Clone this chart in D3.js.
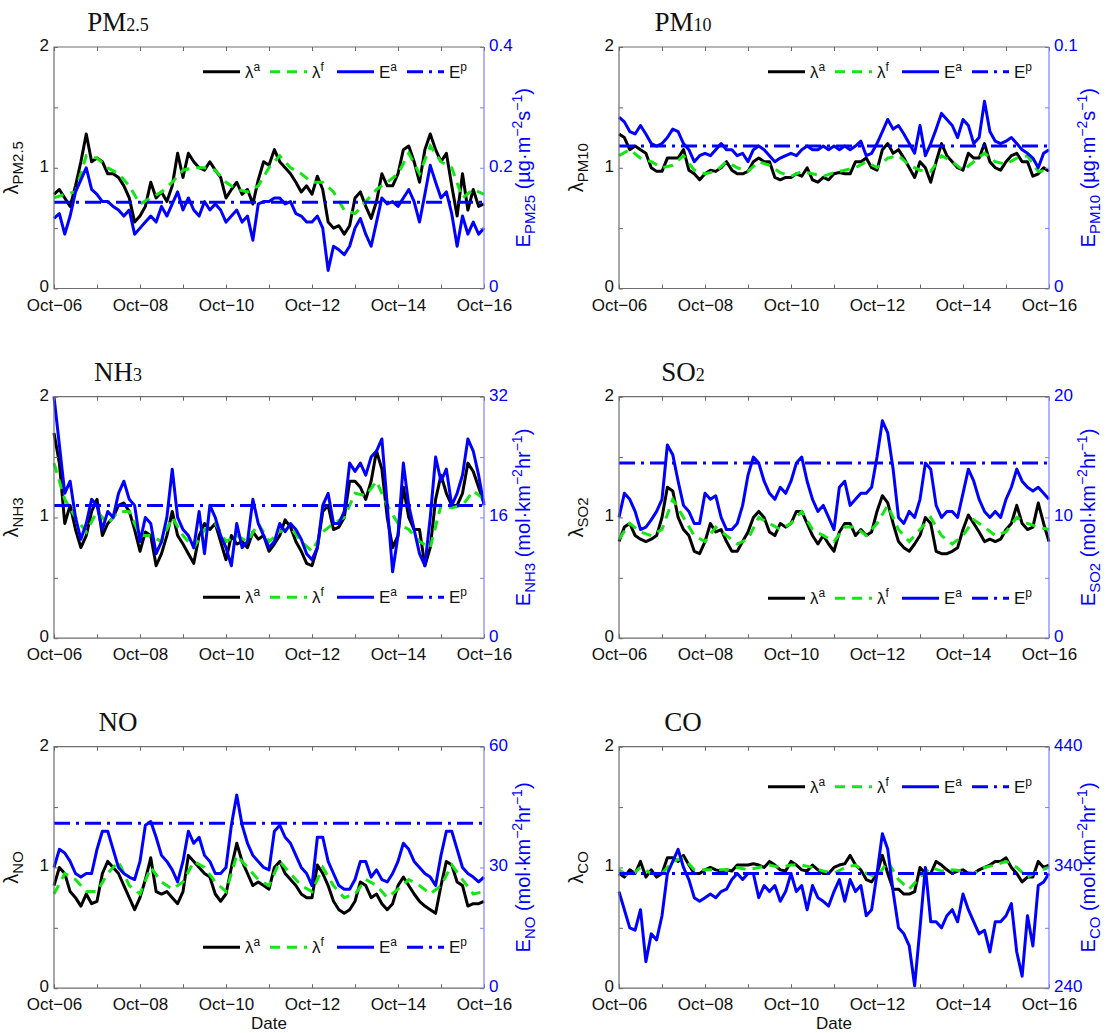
<!DOCTYPE html>
<html>
<head>
<meta charset="utf-8">
<script src="https://cdn.jsdelivr.net/npm/d3@7"></script>
<style>
  body { margin: 0; background: #fff; }
  svg text { font-family: "Liberation Sans", Arial, Helvetica, sans-serif; }
</style>
</head>
<body>
<div id="chart"></div>
<script>
// ---- data (3-hourly analysis / 6-hourly forecast, Oct 06 - Oct 16) ----
const dayTickLabels = ["Oct\u221206", "", "Oct\u221208", "", "Oct\u221210", "", "Oct\u221212", "", "Oct\u221214", "", "Oct\u221216"];
const lamTicks = [0, 0.5, 1, 1.5, 2];
const lamTickLabels = ["0", "", "1", "", "2"];

// PM2.5
const pm25LamA = [0.78,0.82,0.75,0.68,0.85,1.05,1.28,1.05, 1.08,1.05,0.95,0.95,0.92,0.85,0.75,0.55,
  0.6,0.68,0.88,0.75,0.8,0.72,0.85,1.12, 0.92,1.12,1.05,1.0,0.98,1.05,0.98,0.92,
  0.75,0.82,0.88,0.78,0.82,0.7,0.9,1.05, 1.02,1.15,1.05,1.0,0.95,0.88,0.8,0.85,
  0.78,0.93,0.82,0.55,0.5,0.52,0.45,0.52, 0.75,0.8,0.68,0.58,0.72,0.95,0.85,0.85,
  0.95,1.15,1.18,1.05,0.88,1.15,1.28,1.15, 1.05,1.12,0.85,0.6,0.95,0.65,0.82,0.68, 0.7];
const pm25LamF = [0.75,0.78,0.8,1.1,1.08,1.0,0.95,0.85, 0.7,0.75,0.8,0.88,0.98,1.0,1.0,0.98,
  0.88,0.82,0.8,0.85,1.0,1.1,1.0,0.95, 0.88,0.88,0.8,0.65,0.62,0.72,0.82,0.88,
  0.95,1.12,0.95,1.18,1.05,1.0,0.75,0.82, 0.78];
const pm25Ea = [0.116,0.124,0.09,0.12,0.16,0.18,0.2,0.164, 0.156,0.144,0.144,0.136,0.13,0.12,0.13,0.09,
  0.1,0.11,0.12,0.11,0.136,0.12,0.14,0.16, 0.13,0.15,0.13,0.12,0.144,0.13,0.14,0.13,
  0.11,0.12,0.13,0.11,0.12,0.08,0.14,0.144, 0.144,0.15,0.15,0.14,0.144,0.124,0.12,0.11,
  0.11,0.12,0.1,0.03,0.07,0.064,0.056,0.07, 0.1,0.116,0.09,0.07,0.11,0.15,0.14,0.144,
  0.136,0.15,0.164,0.144,0.11,0.156,0.204,0.176, 0.15,0.16,0.124,0.07,0.12,0.09,0.11,0.09, 0.1];
const pm25Ep = 0.143;
const pm25RightTicks = [0, 0.1, 0.2, 0.3, 0.4];
const pm25RightLabels = ["0", "", "0.2", "", "0.4"];

// PM10
const pm10LamA = [1.28,1.25,1.15,1.18,1.15,1.12,1.0,0.97, 0.97,1.08,1.08,1.08,1.15,0.98,0.95,0.9,
  0.95,0.98,0.97,1.0,1.05,0.98,0.95,0.95, 0.97,1.05,1.08,1.05,1.05,0.92,0.9,0.92,
  0.92,0.95,0.93,1.0,0.9,0.88,0.92,0.9, 0.95,0.96,0.95,0.95,1.05,1.05,1.08,1.0,
  0.98,1.15,1.2,1.12,1.15,1.08,1.0,0.92, 1.05,1.0,0.88,1.05,1.2,1.1,1.05,1.0,
  0.98,1.12,1.08,1.08,1.2,1.05,1.0,0.98, 1.05,1.1,1.12,1.05,1.05,0.93,0.95,1.0, 0.97];
const pm10LamF = [1.1,1.15,1.08,1.05,1.0,1.02,1.1,0.98, 0.95,0.97,1.05,1.0,0.97,1.05,1.02,0.96,
  0.93,0.97,0.95,0.93,0.96,0.98,1.0,1.05, 1.0,1.08,1.1,1.02,0.98,0.97,1.1,1.05,
  0.98,1.05,1.12,1.05,1.03,1.08,1.1,0.97, 0.98];
const pm10Ea = [0.071,0.069,0.065,0.064,0.0675,0.064,0.06,0.059, 0.06,0.0625,0.066,0.065,0.06,0.0575,0.0525,0.055,
  0.056,0.055,0.0575,0.06,0.0575,0.0575,0.055,0.056, 0.0525,0.0575,0.059,0.0575,0.055,0.0525,0.054,0.055,
  0.056,0.055,0.0575,0.059,0.0575,0.0575,0.059,0.0575, 0.059,0.0575,0.059,0.0575,0.059,0.061,0.055,0.056,
  0.06,0.065,0.07,0.066,0.0675,0.064,0.06,0.056, 0.0675,0.055,0.06,0.066,0.0725,0.07,0.0675,0.0625,
  0.07,0.0675,0.06,0.0625,0.0775,0.065,0.061,0.06, 0.061,0.0625,0.06,0.0575,0.056,0.054,0.05,0.056, 0.0575];
const pm10Ep = 0.059;
const pm10RightTicks = [0, 0.025, 0.05, 0.075, 0.1];
const pm10RightLabels = ["0", "", "", "", "0.1"];

// NH3
const nh3LamA = [1.7,1.45,0.95,1.1,0.9,0.75,0.85,1.05, 1.15,0.85,0.95,1.0,1.1,1.12,1.05,0.9,
  0.72,0.88,0.85,0.6,0.7,0.85,1.05,0.85, 0.78,0.7,0.62,0.85,0.95,0.9,0.95,0.8,
  0.65,0.85,0.78,0.8,0.75,0.88,0.82,0.85, 0.72,0.78,0.85,0.98,0.92,0.8,0.72,0.62,
  0.6,0.75,1.05,1.1,0.9,0.92,1.0,1.3, 1.3,1.25,1.15,1.3,1.55,1.4,1.0,0.75,
  0.85,1.25,1.0,0.9,0.9,0.6,0.75,1.15, 1.35,1.2,1.1,1.1,1.2,1.45,1.38,1.25, 1.12];
const nh3LamF = [1.45,1.15,1.0,0.88,1.05,0.95,1.05,1.05, 0.85,0.85,0.8,1.0,0.85,0.75,0.9,0.95,
  0.8,0.85,0.8,0.95,0.8,0.88,0.92,0.8, 0.72,0.88,0.95,1.0,1.2,1.18,1.3,1.1,
  0.95,0.9,0.8,0.75,1.1,1.08,1.1,1.22, 1.15];
const nh3Ea = [32,25.6,19.2,20.8,16,13.1,15.2,18.4, 17.6,14.4,16.8,16,19.2,20.8,18.4,17.6,
  12.8,16,15.2,11.2,12.8,16,22.4,16, 14.4,13.6,12,16.8,11.2,17.6,16,13.6,
  12,9.6,15.2,12,12.8,18.4,15.2,13.6, 12,12.8,15.2,14.1,15.2,14.4,13.1,11.2,
  10.4,12,17.6,19.2,15.2,15.2,16.8,23.2, 22.1,23.2,21.6,24,24.8,26.4,17.6,8.8,
  13.6,23.2,17.6,14.4,11.2,9.6,16,24, 20.8,22.4,17.6,19.2,21.6,26.4,24.8,21.6, 17.6];
const nh3Ep = 17.6;
const nh3RightTicks = [0, 8, 16, 24, 32];
const nh3RightLabels = ["0", "", "16", "", "32"];

// SO2
const so2LamA = [0.8,0.92,0.95,0.85,0.82,0.8,0.82,0.85, 1.0,1.25,1.22,1.0,0.9,0.85,0.72,0.7,
  0.8,0.95,0.88,0.9,0.8,0.72,0.72,0.8, 0.88,1.0,1.05,1.0,0.88,0.85,0.95,0.92,
  0.95,1.05,1.05,0.95,0.85,0.78,0.85,0.78, 0.72,0.88,0.95,0.95,0.85,0.9,0.85,0.88,
  1.05,1.18,1.12,0.95,0.8,0.75,0.72,0.78, 0.85,1.0,0.95,0.72,0.7,0.7,0.72,0.75,
  0.9,1.02,0.95,0.88,0.8,0.82,0.8,0.82, 0.9,0.95,1.1,0.95,0.9,0.92,1.12,0.95, 0.8];
const so2LamF = [0.82,0.95,0.88,0.85,0.9,1.15,1.0,0.85, 0.8,0.92,0.85,0.78,0.82,1.0,0.95,0.9,
  0.95,1.05,0.9,0.85,0.8,0.92,0.92,0.85, 0.95,1.1,0.9,0.8,0.9,1.0,0.85,0.78,
  0.85,0.98,0.92,0.85,0.88,1.0,0.95,0.92, 0.9];
const so2Ea = [10,12,11.5,10.5,9,9.2,9.8,10.5, 11.5,16,15.2,13,11,10.5,9.5,9.5,
  12,11.5,11.8,10,9,9,9.5,11, 13.5,15,14.5,13,12,11.5,12.5,12,
  13,14.5,15,13,11.5,10.5,11,10, 9,12.5,13,11,11.5,12,12,12.5,
  15,18,17,14,10,9.5,10.5,10, 11.5,14.5,14,11,10,10.5,10.5,10,
  12,14,13,11.5,10.5,10,10.5,10, 11.5,12.5,14,13,12.5,12.2,12.5,12, 11.5];
const so2Ep = 14.5;
const so2RightTicks = [0, 5, 10, 15, 20];
const so2RightLabels = ["0", "", "10", "", "20"];

// NO
const noLamA = [0.85,1.0,0.95,0.8,0.75,0.68,0.78,0.7, 0.72,0.95,1.05,1.0,0.95,0.85,0.75,0.65,
  0.75,0.9,1.08,0.8,0.78,0.8,0.75,0.7, 0.8,1.1,1.05,1.0,0.95,0.92,0.78,0.72,
  0.78,1.0,1.2,1.05,0.95,0.85,0.88,0.85, 0.82,1.0,1.05,0.95,0.9,0.85,0.78,0.75,
  0.75,1.02,0.95,0.85,0.72,0.65,0.62,0.65, 0.72,0.88,0.85,0.75,0.78,0.7,0.65,0.7,
  0.85,0.92,0.85,0.78,0.72,0.68,0.65,0.62, 0.85,1.05,1.02,0.88,0.85,0.68,0.7,0.7, 0.72];
const noLamF = [0.78,0.95,0.9,0.8,0.8,0.95,1.05,0.85, 0.78,1.0,0.88,0.82,0.88,1.05,1.0,0.88,
  0.8,1.1,1.0,0.9,0.85,1.05,0.95,0.85, 0.8,1.0,0.85,0.75,0.78,0.9,0.85,0.75,
  0.82,0.9,0.85,0.78,0.85,1.02,0.9,0.78, 0.8];
const noEa = [30,34.5,33.6,31.5,28.5,27.6,28.5,28.5, 34.5,39,39,34.5,30,28.5,27.6,27,
  31.5,40.5,41.4,37.5,33,31.5,29.4,26.4, 31.5,39,36,37.5,33,31.5,28.5,28.5,
  30,40.5,48,40.5,36,33,31.5,30, 29.4,39,40.5,37.5,36,33,30,28.5,
  25.5,37.5,37.5,31.5,28.5,25.5,24.6,24.6, 27,31.5,31.5,27.6,29.4,27,26.4,28.5,
  31.5,36,34.5,31.5,30,28.5,27.6,25.5, 33,39,39,34.5,30,28.5,27.6,26.4, 27.6];
const noEp = 41;
const noRightTicks = [0, 15, 30, 45, 60];
const noRightLabels = ["0", "", "30", "", "60"];

// CO
const coLamA = [0.95,0.92,0.98,0.95,1.05,0.92,0.98,0.92, 0.95,1.08,1.08,1.05,1.1,1.02,0.95,0.95,
  0.98,1.0,0.98,0.97,0.98,0.97,1.02,1.02, 1.02,1.03,1.02,1.0,1.05,1.02,0.98,0.97,
  1.05,1.02,0.98,0.97,1.02,0.98,0.95,0.95, 1.0,1.02,1.03,1.1,1.02,0.98,0.9,0.88,
  0.95,1.1,0.95,0.82,0.82,0.78,0.78,0.8, 1.0,0.95,0.95,1.05,1.02,0.98,0.95,0.97,
  0.98,0.95,0.95,0.98,1.0,1.02,1.05,1.05, 1.08,1.0,0.95,0.88,0.92,0.92,1.05,1.0, 1.02];
const coLamF = [0.98,0.92,1.0,0.95,0.95,1.05,1.08,0.98, 0.98,0.98,0.98,1.0,0.98,1.0,1.02,1.0,
  1.02,1.02,1.0,0.97,0.95,1.0,1.02,0.95, 0.92,1.05,0.9,0.82,0.92,1.0,0.97,0.98,
  0.97,0.95,1.0,1.02,1.05,1.0,0.92,0.97, 1.0];
const coEa = [320,305,290,288,305,262,285,280, 300,335,345,355,340,330,315,312,
  315,318,315,320,322,330,335,330, 335,335,315,325,320,325,312,320,
  335,320,325,305,325,315,312,308, 320,330,312,330,320,325,300,305,
  335,368,355,320,290,285,275,242, 290,340,295,295,290,300,305,295,
  318,305,295,285,288,270,295,295, 300,310,270,250,300,275,325,328, 335];
const coEp = 335;
const coRightTicks = [240, 290, 340, 390, 440];
const coRightLabels = ["240", "", "340", "", "440"];

// ---- layout ----
const W = 1113, H = 1033;
const colX = [54, 619], rowY = [47, 396.7, 746.7];
const PW = 430, PH = 241.5;
const BLUE = "#0000ff", GREEN = "#14e614";

const svg = d3.select("#chart").append("svg")
  .attr("width", W).attr("height", H)
  .style("background", "#fff");

const startDate = new Date(Date.UTC(2014, 9, 6));
const endDate = new Date(Date.UTC(2014, 9, 16));
const timesFor = n => d3.range(n).map(i => new Date(+startDate + i * (endDate - startDate) / (n - 1)));
const dayTicks = d3.utcDay.range(startDate, d3.utcDay.offset(endDate, 1));

const panels = [
  { title: "PM", titleSub: "2.5", col: 0, row: 0, lamA: pm25LamA, lamF: pm25LamF, ea: pm25Ea, ep: pm25Ep,
    rTicks: pm25RightTicks, rLabels: pm25RightLabels, lamSub: "PM2.5", eSub: "PM25", unit: "pm", legend: ["top", 24.7] },
  { title: "PM", titleSub: "10", col: 1, row: 0, lamA: pm10LamA, lamF: pm10LamF, ea: pm10Ea, ep: pm10Ep,
    rTicks: pm10RightTicks, rLabels: pm10RightLabels, lamSub: "PM10", eSub: "PM10", unit: "pm", legend: ["top", 24.7] },
  { title: "NH", titleSub: "3", col: 0, row: 1, lamA: nh3LamA, lamF: nh3LamF, ea: nh3Ea, ep: nh3Ep,
    rTicks: nh3RightTicks, rLabels: nh3RightLabels, lamSub: "NH3", eSub: "NH3", unit: "gas", legend: ["bottom", 41] },
  { title: "SO", titleSub: "2", col: 1, row: 1, lamA: so2LamA, lamF: so2LamF, ea: so2Ea, ep: so2Ep,
    rTicks: so2RightTicks, rLabels: so2RightLabels, lamSub: "SO2", eSub: "SO2", unit: "gas", legend: ["bottom", 40] },
  { title: "NO", titleSub: "", col: 0, row: 2, lamA: noLamA, lamF: noLamF, ea: noEa, ep: noEp,
    rTicks: noRightTicks, rLabels: noRightLabels, lamSub: "NO", eSub: "NO", unit: "gas", legend: ["bottom", 41] },
  { title: "CO", titleSub: "", col: 1, row: 2, lamA: coLamA, lamF: coLamF, ea: coEa, ep: coEp,
    rTicks: coRightTicks, rLabels: coRightLabels, lamSub: "CO", eSub: "CO", unit: "gas", legend: ["top", 40] }
];

function styleAxis(a, color, lineColor) {
  a.select(".domain").remove();
  a.attr("font-size", 17).attr("font-family", null);
  a.selectAll(".tick line").attr("stroke", lineColor);
  a.selectAll(".tick text").attr("fill", color);
}

function drawPanel(p) {
  const left = colX[p.col], top = rowY[p.row];
  const g = svg.append("g").attr("transform", `translate(${left},${top})`);

  const x = d3.scaleUtc().domain([startDate, endDate]).range([0, PW]);
  const yL = d3.scaleLinear().domain([0, 2]).range([PH, 0]);
  const yR = d3.scaleLinear().domain([p.rTicks[0], p.rTicks[p.rTicks.length - 1]]).range([PH, 0]);

  const tA = timesFor(p.lamA.length), tF = timesFor(p.lamF.length), tE = timesFor(p.ea.length);

  // data lines
  const lineL = t => d3.line().x((d, i) => x(t[i])).y(d => yL(d));
  const lineR = t => d3.line().x((d, i) => x(t[i])).y(d => yR(d));
  g.append("path").datum(p.lamA).attr("d", lineL(tA))
    .attr("fill", "none").attr("stroke", "#000").attr("stroke-width", 3).attr("stroke-linejoin", "round");
  g.append("path").datum(p.lamF).attr("d", lineL(tF))
    .attr("fill", "none").attr("stroke", GREEN).attr("stroke-width", 3).attr("stroke-dasharray", "10,7");
  g.append("path").datum(p.ea).attr("d", lineR(tE))
    .attr("fill", "none").attr("stroke", BLUE).attr("stroke-width", 3).attr("stroke-linejoin", "round");
  g.append("path").datum([p.ep, p.ep]).attr("d", lineR([startDate, endDate]))
    .attr("fill", "none").attr("stroke", BLUE).attr("stroke-width", 3).attr("stroke-dasharray", "16,6,3,6");

  // axes
  g.append("g").attr("transform", `translate(0,${PH})`)
    .call(d3.axisBottom(x).tickValues(dayTicks).tickFormat((d, i) => dayTickLabels[i])
      .tickSize(-4).tickPadding(10))
    .call(a => styleAxis(a, "#111", "#666"));
  g.append("g")
    .call(d3.axisTop(x).tickValues(dayTicks).tickFormat("").tickSize(-4))
    .call(a => styleAxis(a, "#111", "#666"));
  g.append("g")
    .call(d3.axisLeft(yL).tickValues(lamTicks).tickFormat((d, i) => lamTickLabels[i])
      .tickSize(-4).tickPadding(5))
    .call(a => styleAxis(a, "#111", "#666"))
    .call(a => a.selectAll(".tick text").attr("dy", "0.2em"));
  g.append("g").attr("transform", `translate(${PW},0)`)
    .call(d3.axisRight(yR).tickValues(p.rTicks).tickFormat((d, i) => p.rLabels[i])
      .tickSize(-4).tickPadding(5))
    .call(a => styleAxis(a, BLUE, "#7f7fff"))
    .call(a => a.selectAll(".tick text").attr("dy", "0.2em"));

  // box
  g.append("path").attr("d", `M${PW},0H0V${PH}H${PW}`)
    .attr("fill", "none").attr("stroke", "#6e6e6e").attr("stroke-width", 1.2);
  g.append("line").attr("x1", PW).attr("x2", PW).attr("y1", 0).attr("y2", PH)
    .attr("stroke", "#7f7fff").attr("stroke-width", 1.2);

  // title
  const title = g.append("text").attr("x", 64).attr("y", -16).attr("text-anchor", "middle")
    .style("font-family", "'Liberation Serif', 'Times New Roman', serif")
    .attr("font-size", 27).attr("fill", "#111").text(p.title);
  if (p.titleSub) title.append("tspan").attr("font-size", 18).text(p.titleSub);

  // left label
  const ll = g.append("text").attr("transform", `translate(-36,${PH / 2}) rotate(-90)`)
    .attr("text-anchor", "middle").attr("font-size", 20).attr("fill", "#111");
  ll.append("tspan").text("\u03bb");
  ll.append("tspan").attr("font-size", 15).attr("dy", 5).text(p.lamSub);

  // right label
  const rl = g.append("text").attr("transform", `translate(${PW + 46},${PH / 2}) rotate(-90)`)
    .attr("text-anchor", "middle").attr("font-size", 20).attr("fill", BLUE);
  rl.append("tspan").text("E");
  rl.append("tspan").attr("font-size", 15).attr("dy", 5).text(p.eSub);
  const u = p.unit === "pm" ? ["(\u00b5g\u00b7m", "s"] : ["(mol\u00b7km", "hr"];
  rl.append("tspan").attr("dy", -5).text(" " + u[0]);
  rl.append("tspan").attr("font-size", 14).attr("dy", -8).text("\u22122");
  rl.append("tspan").attr("dy", 8).text(u[1]);
  rl.append("tspan").attr("font-size", 14).attr("dy", -8).text("\u22121");
  rl.append("tspan").attr("dy", 8).text(")");

  // legend
  const ly = p.legend[0] === "top" ? p.legend[1] : PH - p.legend[1];
  const lg = g.append("g").attr("transform", `translate(149,${ly})`);
  const items = [
    { s: "\u03bb", sup: "a", color: "#000", dash: null },
    { s: "\u03bb", sup: "f", color: GREEN, dash: "10,7" },
    { s: "E", sup: "a", color: BLUE, dash: null },
    { s: "E", sup: "p", color: BLUE, dash: "16,6,3,6" }
  ];
  const offs = [0, 67, 134, 204];
  items.forEach((it, i) => {
    lg.append("line").attr("x1", offs[i]).attr("x2", offs[i] + 37).attr("y1", 0).attr("y2", 0)
      .attr("stroke", it.color).attr("stroke-width", 3).attr("stroke-dasharray", it.dash);
    const t = lg.append("text").attr("x", offs[i] + 42).attr("y", 6).attr("font-size", 17).attr("fill", "#111");
    t.append("tspan").text(it.s);
    t.append("tspan").attr("font-size", 12).attr("dy", -7).text(it.sup);
  });

  if (p.row === 2) {
    g.append("text").attr("x", PW / 2).attr("y", PH + 41).attr("text-anchor", "middle")
      .attr("font-size", 17).attr("fill", "#111").text("Date");
  }
}

panels.forEach(drawPanel);
</script>
</body>
</html>
